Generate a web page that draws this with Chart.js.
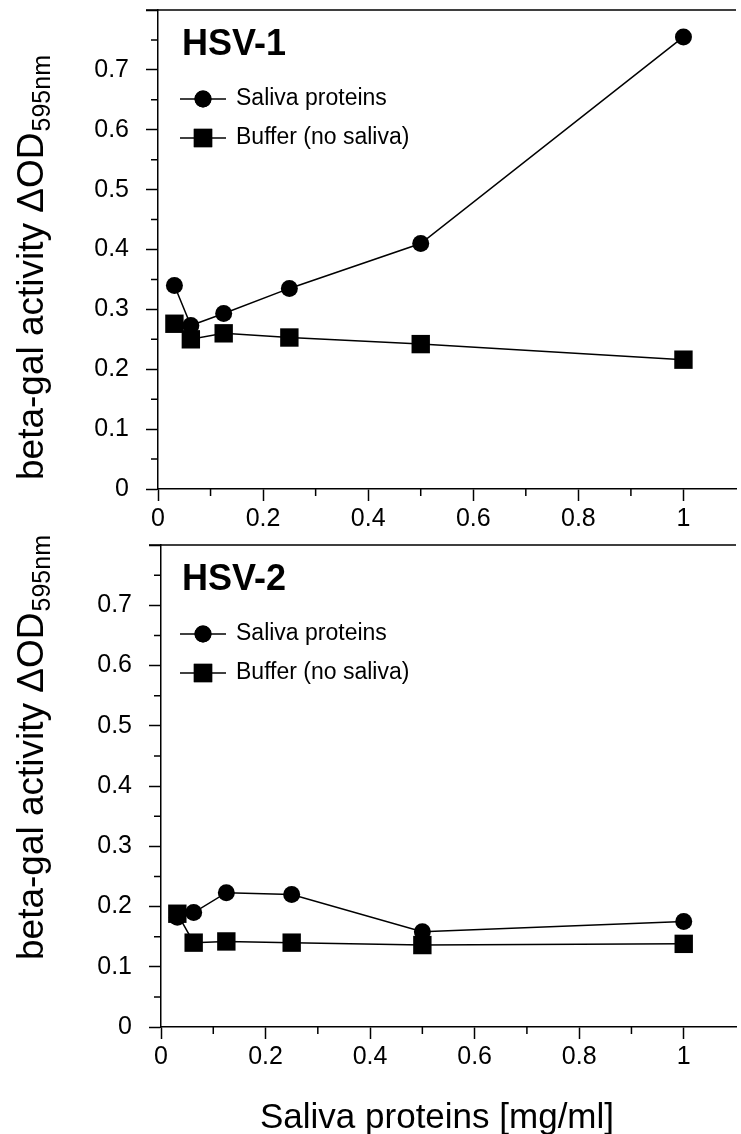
<!DOCTYPE html>
<html>
<head>
<meta charset="utf-8">
<script src="https://cdn.jsdelivr.net/npm/chart.js@4/dist/chart.umd.min.js"></script>
<style>
html, body { margin: 0; padding: 0; background: #fff; overflow: hidden; width: 741px; height: 1134px; position: relative; }
canvas { position: absolute; left: 0; }
</style>
</head>
<body>
<canvas id="hsv1" width="749" height="543" style="top:-3px"></canvas>
<canvas id="hsv2" width="749" height="602" style="top:532px"></canvas>
<script>
// saliva protein concentration, mg/ml
const doses = [0.03125, 0.0625, 0.125, 0.25, 0.5, 1];

const hsv1Saliva = [0.34, 0.273, 0.293, 0.335, 0.41, 0.755];
const hsv1Buffer = [0.276, 0.25, 0.26, 0.253, 0.242, 0.216];
const hsv2Saliva = [0.182, 0.19, 0.223, 0.22, 0.158, 0.175];
const hsv2Buffer = [0.188, 0.14, 0.142, 0.14, 0.136, 0.138];

const seriesNames = ["Saliva proteins", "Buffer (no saliva)"];
const xTicks = [0, 0.2, 0.4, 0.6, 0.8, 1];
const xMinor = [0.1, 0.3, 0.5, 0.7, 0.9];
const yTicks = [0, 0.1, 0.2, 0.3, 0.4, 0.5, 0.6, 0.7, 0.8];
const yMinor = [0.05, 0.15, 0.25, 0.35, 0.45, 0.55, 0.65, 0.75];

const FONT = "'Liberation Sans', Arial, sans-serif";

function xy(vals) {
    return doses.map((d, i) => ({x: d, y: vals[i]}));
}

// minor ticks, top frame line, panel title, legend, axis titles
const decor = {
    id: "decor",
    afterDraw(chart, args, o) {
        const ctx = chart.ctx;
        const a = chart.chartArea;
        const xs = chart.scales.x, ys = chart.scales.y;
        ctx.save();
        ctx.strokeStyle = "#000";
        ctx.lineWidth = 1.5;
        ctx.beginPath();
        ctx.moveTo(a.left - 12, a.top);
        ctx.lineTo(a.right, a.top);
        xMinor.forEach(v => {
            const px = xs.getPixelForValue(v);
            ctx.moveTo(px, a.bottom);
            ctx.lineTo(px, a.bottom + 7);
        });
        yMinor.forEach(v => {
            const py = ys.getPixelForValue(v);
            ctx.moveTo(a.left, py);
            ctx.lineTo(a.left - 7, py);
        });
        ctx.stroke();

        ctx.fillStyle = "#000";
        ctx.textBaseline = "middle";
        ctx.font = "bold 36px " + FONT;
        ctx.fillText(o.title, 182, a.top + 35);

        chart.data.datasets.forEach((ds, i) => {
            const y = a.top + 89 + i * 39;
            ctx.beginPath();
            ctx.lineWidth = 1.5;
            ctx.moveTo(180, y);
            ctx.lineTo(226, y);
            ctx.stroke();
            Chart.helpers.drawPoint(ctx, {pointStyle: ds.pointStyle, radius: ds.pointRadius, rotation: 0}, 203, y);
            ctx.fill();
            ctx.font = "23px " + FONT;
            ctx.fillText(ds.label, 236, y);
        });

        // y axis title with subscript
        ctx.save();
        ctx.translate(33, o.yTitleCenter);
        ctx.rotate(-Math.PI / 2);
        ctx.font = "37px " + FONT;
        const main = "beta-gal activity \u0394OD";
        const mw = ctx.measureText(main).width;
        ctx.font = "25px " + FONT;
        const sw = ctx.measureText("595nm").width;
        const x0 = -(mw + sw) / 2;
        ctx.font = "37px " + FONT;
        ctx.textAlign = "left";
        ctx.fillText(main, x0, 0);
        ctx.font = "25px " + FONT;
        ctx.fillText("595nm", x0 + mw + 1, 10);
        ctx.restore();

        if (o.xTitle) {
            ctx.font = "35px " + FONT;
            ctx.textAlign = "center";
            ctx.fillText(o.xTitle, o.xTitleX, o.xTitleY);
        }
        ctx.restore();
    }
};

function makeChart(id, saliva, buffer, opts) {
    return new Chart(document.getElementById(id), {
        type: "line",
        data: {
            datasets: [
                {label: seriesNames[0], data: xy(saliva), pointStyle: "circle", pointRadius: 8.5},
                {label: seriesNames[1], data: xy(buffer), pointStyle: "rect", pointRadius: 13}
            ].map(d => Object.assign(d, {
                borderColor: "#000", backgroundColor: "#000", borderWidth: 1.5,
                pointBorderWidth: 0, pointHoverRadius: d.pointRadius, tension: 0, clip: false
            }))
        },
        options: {
            responsive: false,
            animation: false,
            events: [],
            layout: {padding: 0},
            plugins: {
                legend: {display: false},
                tooltip: {enabled: false},
                decor: opts
            },
            scales: {
                x: {
                    type: "linear", min: 0, max: 1.1,
                    afterBuildTicks: s => { s.ticks = xTicks.map(v => ({value: v})); },
                    afterFit: s => { s.height = opts.xHeight; s.paddingLeft = 0; s.paddingRight = 0; },
                    grid: {drawOnChartArea: false, tickLength: 12, tickColor: "#000", tickWidth: 1.5},
                    border: {color: "#000", width: 1.5},
                    ticks: {
                        color: "#000", padding: 3, maxRotation: 0,
                        font: {family: FONT, size: 25},
                        callback: v => String(v)
                    }
                },
                y: {
                    type: "linear", min: 0, max: 0.8,
                    afterBuildTicks: s => { s.ticks = yTicks.map(v => ({value: v})); },
                    afterFit: s => { s.width = opts.left; s.paddingTop = 0; s.paddingBottom = 0; },
                    grid: {drawOnChartArea: false, tickLength: 12, tickColor: "#000", tickWidth: 1.5},
                    border: {color: "#000", width: 1.5},
                    ticks: {
                        color: "#000", padding: 17,
                        font: {family: FONT, size: 25},
                        callback: v => v >= 0.8 ? "" : String(v)
                    }
                }
            }
        },
        plugins: [decor]
    });
}

makeChart("hsv1", hsv1Saliva, hsv1Buffer, {
    title: "HSV-1", left: 158, xHeight: 51, yTitleCenter: 271
});
makeChart("hsv2", hsv2Saliva, hsv2Buffer, {
    title: "HSV-2", left: 161, xHeight: 107, yTitleCenter: 216,
    xTitle: "Saliva proteins [mg/ml]", xTitleX: 437, xTitleY: 586
});
</script>
</body>
</html>
